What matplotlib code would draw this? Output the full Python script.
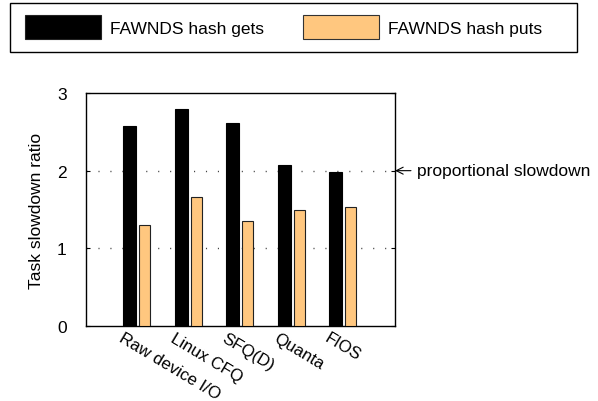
import numpy as np
import matplotlib
matplotlib.use('Agg')
import matplotlib.pyplot as plt
from matplotlib.patches import Patch, Rectangle

# font
plt.rcParams['font.family'] = ['Liberation Sans', 'DejaVu Sans']
plt.rcParams['font.size'] = 12.5

# ============================================================
# data
# ============================================================
schedulers = ['Raw device I/O', 'Linux CFQ', 'SFQ(D)', 'Quanta', 'FIOS']
hash_gets = [2.58, 2.80, 2.61, 2.07, 1.98]
hash_puts = [1.30, 1.66, 1.355, 1.50, 1.53]
yticks = [0, 1, 2, 3]
proportional_line = 2

gets_color = 'black'
puts_color = '#ffc77f'

# ============================================================
# figure
# ============================================================
fig = plt.figure(figsize=(5.98, 4.02), dpi=100)
ax = fig.add_axes([86 / 598, 1 - 327 / 402, 309 / 598, 233 / 402])

x = np.arange(1, len(schedulers) + 1)

# dotted guide lines
for yv in yticks[1:-1]:
    ax.axhline(yv, color='#444444', lw=1.0, linestyle=(0, (0.8, 7.8)), zorder=1)

ax.bar(x - 0.15, hash_gets, 0.25, color=gets_color, edgecolor='black',
       linewidth=0.8, zorder=3)
ax.bar(x + 0.14, hash_puts, 0.22, color=puts_color, edgecolor='#222222',
       linewidth=0.8, zorder=3)

ax.set_xlim(0, len(schedulers) + 1)
ax.set_ylim(0, 3)
ax.set_yticks(yticks)
ax.set_xticks([])
ax.tick_params(axis='y', direction='in', length=3, width=0.8, pad=14,
               right=True)
ax.set_ylabel('Task slowdown ratio', labelpad=9)

for spine in ax.spines.values():
    spine.set_linewidth(1.0)

# rotated category labels
for xi, name in zip(x, schedulers):
    ax.text(xi - 0.26, -0.018, name, transform=ax.get_xaxis_transform(),
            rotation=-31, rotation_mode='anchor', ha='left', va='top',
            fontsize=12.2)

# proportional slowdown marker
ax.annotate('proportional slowdown', xy=(1.0, proportional_line),
            xycoords=('axes fraction', 'data'),
            xytext=(15.5, 0), textcoords='offset points', va='center',
            arrowprops=dict(arrowstyle='->', lw=0.8, color='black',
                            shrinkA=2, shrinkB=0),
            annotation_clip=False)

# legend
handles = [Patch(facecolor=gets_color, edgecolor='#222222', lw=0.8),
           Patch(facecolor=puts_color, edgecolor='#333333', lw=0.8)]
fig.legend(handles, ['FAWNDS hash gets', 'FAWNDS hash puts'], ncol=2,
           loc='center left', bbox_to_anchor=(25 / 598, 1 - 28 / 402),
           frameon=False, borderpad=0, borderaxespad=0,
           handlelength=4.38, handleheight=1.73, handletextpad=0.52,
           columnspacing=2.25)
fig.patches.append(Rectangle((10 / 598, 1 - 53 / 402), 567 / 598, 49 / 402,
                             transform=fig.transFigure, fill=False,
                             edgecolor='black', lw=1.0))

fig.savefig('out.png', dpi=100, facecolor='white')
